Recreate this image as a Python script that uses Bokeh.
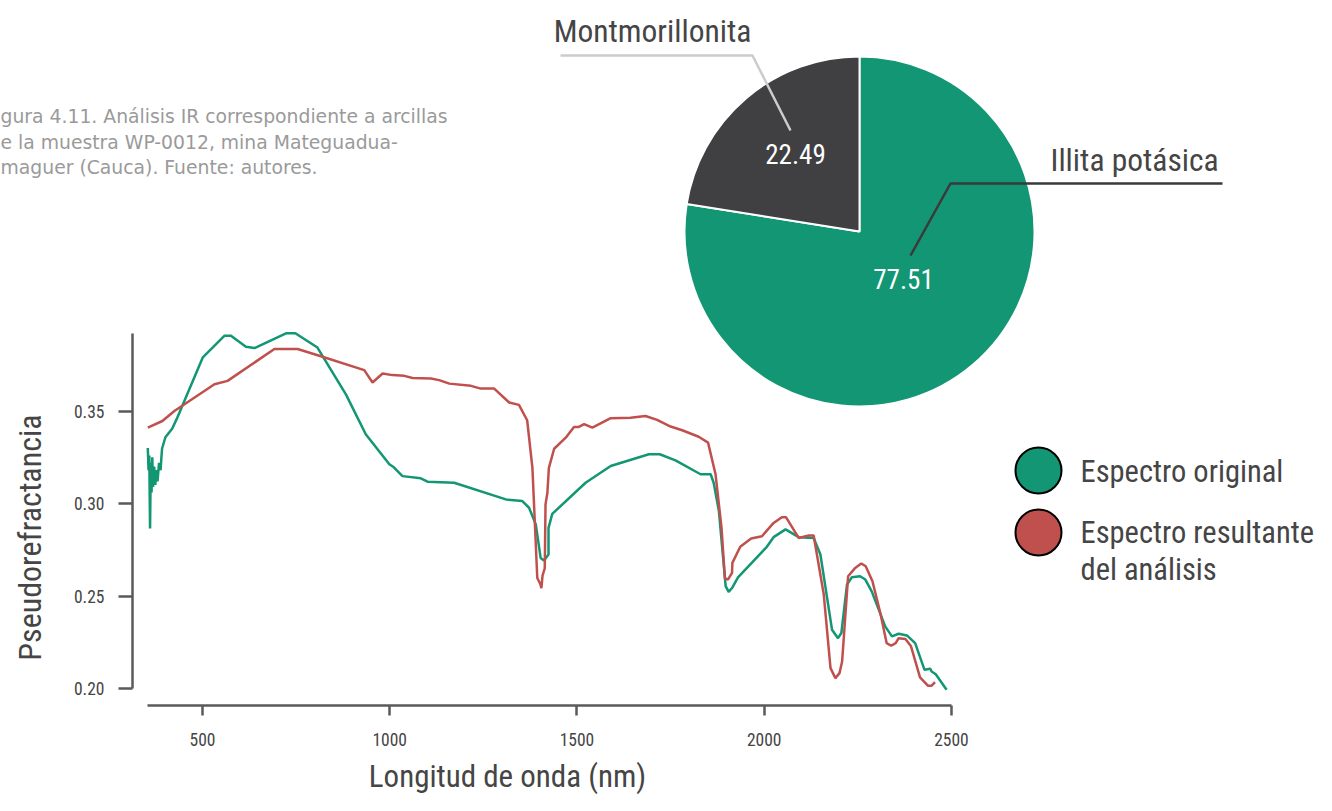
import math
from bokeh.plotting import figure
from bokeh.models import Range1d, FixedTicker, NumeralTickFormatter, GridBox
from bokeh.embed import file_html
from bokeh.resources import INLINE
from bokeh.core.properties import value

# ---------------- data ----------------
series_names = ["Espectro original", "Espectro resultante\ndel análisis"]

original_nm = [354, 356, 358, 360, 362, 364, 366, 368, 371, 374, 377, 380, 384, 388, 392, 401, 419, 431,
               501, 559, 576, 616, 639, 723, 748, 807, 883, 936, 999, 1009, 1034, 1083, 1101, 1172,
               1310, 1354, 1372, 1390, 1403, 1412, 1424, 1424, 1434, 1523, 1590, 1692, 1721, 1763,
               1830, 1857, 1865, 1879, 1897, 1905, 1914, 1930, 2007, 2025, 2057, 2092, 2132, 2150,
               2181, 2197, 2206, 2221, 2234, 2256, 2270, 2287, 2323, 2341, 2359, 2381, 2403, 2428,
               2443, 2447, 2458, 2487]
original_val = [0.330, 0.318, 0.326, 0.2865, 0.322, 0.306, 0.325, 0.309, 0.320, 0.310, 0.318, 0.312,
                0.322, 0.318, 0.3296, 0.3358, 0.3404, 0.3456, 0.379, 0.3907, 0.3907, 0.3847, 0.384,
                0.392, 0.392, 0.3843, 0.359, 0.3374, 0.3212, 0.3199, 0.3148, 0.3136, 0.3118, 0.3112,
                0.3022, 0.3013, 0.2977, 0.2887, 0.2706, 0.2692, 0.2724, 0.2868, 0.2944, 0.3112,
                0.3203, 0.3266, 0.3266, 0.3233, 0.3158, 0.3158, 0.3112, 0.2959, 0.2553, 0.2522,
                0.2543, 0.2601, 0.2766, 0.2818, 0.286, 0.2818, 0.2814, 0.2724, 0.2318, 0.2272, 0.23,
                0.2562, 0.2601, 0.2607, 0.2589, 0.2525, 0.2336, 0.2282, 0.2296, 0.2287, 0.2245,
                0.2101, 0.2107, 0.2092, 0.2077, 0.1993]

result_nm = [354, 393, 425, 532, 567, 692, 754, 812, 932, 954, 981, 1007, 1039, 1061, 1110, 1132,
             1159, 1217, 1243, 1279, 1319, 1345, 1367, 1381, 1394, 1402, 1405, 1408, 1414, 1416,
             1421, 1425, 1439, 1470, 1492, 1505, 1519, 1541, 1590, 1643, 1683, 1714, 1750, 1781,
             1825, 1850, 1870, 1886, 1895, 1903, 1914, 1915, 1936, 1965, 1994, 2025, 2047, 2058,
             2092, 2119, 2132, 2159, 2177, 2190, 2201, 2208, 2224, 2243, 2259, 2271, 2289, 2310,
             2327, 2339, 2351, 2359, 2377, 2392, 2416, 2437, 2447, 2456]
result_val = [0.341, 0.3446, 0.35, 0.3645, 0.3663, 0.3835, 0.3835, 0.3799, 0.3721, 0.3654, 0.3703,
              0.3694, 0.369, 0.3678, 0.3676, 0.3667, 0.3648, 0.3636, 0.3621, 0.3621, 0.3546,
              0.3533, 0.345, 0.3193, 0.2597, 0.2565, 0.2543, 0.2610, 0.265, 0.2995, 0.3058,
              0.3193, 0.3296, 0.3356, 0.3414, 0.3414, 0.3429, 0.341, 0.3461, 0.3464, 0.3473,
              0.3452, 0.3416, 0.3396, 0.3361, 0.3329, 0.3158, 0.2868, 0.2597, 0.2589, 0.2625,
              0.2679, 0.2766, 0.2811, 0.2823, 0.2895, 0.2926, 0.2926, 0.2814, 0.2827, 0.2827,
              0.2508, 0.211, 0.2056, 0.2083, 0.2146, 0.2607, 0.2652, 0.2676, 0.2661, 0.258,
              0.2408, 0.2245, 0.2231, 0.2245, 0.2272, 0.2268, 0.2228, 0.206, 0.2015, 0.2015, 0.2034]

x_ticks = [500, 1000, 1500, 2000, 2500]
y_ticks = [0.20, 0.25, 0.30, 0.35]

pie_labels = ["Illita potásica", "Montmorillonita"]
pie_values = [77.51, 22.49]

caption_lines = ["gura 4.11. Análisis IR correspondiente a arcillas",
                 "e la muestra WP-0012, mina Mateguadua-",
                 "maguer (Cauca). Fuente: autores."]

x_title = "Longitud de onda (nm)"
y_title = "Pseudorefractancia"

# ---------------- style / layout ----------------
GREEN = "#129673"
RED = "#c0504d"
DARK = "#404042"
TEXT = "#454545"
AXIS = "#5a5a5a"
FONT = "Roboto Condensed"

W, H = 1316, 795
FX0, FX1 = 132, 1316       # chart frame left/right (px)
FY0, FY1 = 0, 705          # chart frame top/bottom (px)
PX_PER_NM = 0.3745
PX_PER_UNIT = 1850.0
x_start = 354 - (147.3 - FX0) / PX_PER_NM
y_start = 0.20 - (FY1 - 688) / PX_PER_UNIT

# ---------- line chart with axes ----------
p = figure(width=W, height=H, output_backend="svg", toolbar_location=None,
           x_range=Range1d(x_start, x_start + (FX1 - FX0) / PX_PER_NM),
           y_range=Range1d(y_start, y_start + (FY1 - FY0) / PX_PER_UNIT),
           min_border_left=FX0, min_border_right=0, min_border_top=0,
           min_border_bottom=H - FY1)
p.frame_align = False
p.outline_line_color = None
p.grid.visible = False
p.background_fill_color = "white"
p.border_fill_color = "white"

for ax in (p.xaxis[0], p.yaxis[0]):
    ax.axis_line_color = AXIS
    ax.axis_line_width = 2.5
    ax.major_tick_line_color = AXIS
    ax.major_tick_line_width = 2.5
    ax.major_tick_in = 0
    ax.minor_tick_line_color = None
    ax.major_label_text_font = FONT
    ax.major_label_text_font_size = "17.5px"
    ax.major_label_text_color = TEXT

p.xaxis.ticker = FixedTicker(ticks=x_ticks)
p.xaxis.bounds = (354, 2500)
p.xaxis.major_tick_out = 10
p.xaxis.major_label_standoff = 17

p.yaxis.ticker = FixedTicker(ticks=y_ticks)
p.yaxis.bounds = (0.20, 0.392)
p.yaxis.major_tick_out = 14
p.yaxis.major_label_standoff = 14
p.yaxis.formatter = NumeralTickFormatter(format="0.00")

p.line(original_nm, original_val, line_color=GREEN, line_width=2.5)
p.line(result_nm, result_val, line_color=RED, line_width=2.5)

# ---------- overlay: pie, legend, texts (pixel coordinates) ----------
o = figure(width=W, height=H, output_backend="svg", toolbar_location=None,
           x_axis_type=None, y_axis_type=None,
           x_range=Range1d(0, W), y_range=Range1d(H, 0),
           min_border=0, min_border_left=0, min_border_right=0,
           min_border_top=0, min_border_bottom=0)
o.frame_align = False
o.outline_line_color = None
o.grid.visible = False
o.background_fill_color = None
o.border_fill_color = None

cx, cy, r = 859, 231, 175
total = sum(pie_values)
frac_m = pie_values[1] / total
a0 = math.pi / 2
starts = [a0 + frac_m * 2 * math.pi, a0]
ends = [a0 + 2 * math.pi, a0 + frac_m * 2 * math.pi]
o.wedge(x=[cx, cx], y=[cy, cy], radius=r, radius_units="screen",
        start_angle=starts, end_angle=ends, fill_color=[GREEN, DARK],
        line_color="white", line_width=2)

# leader lines
o.line([560, 752, 790], [55, 55, 130], line_color="#cccccc", line_width=2.5)
o.line([1222, 950, 910], [183, 183, 255], line_color="#3a3a3c", line_width=2.5)

# legend markers
o.scatter(x=[1038, 1038], y=[470, 532], size=46, fill_color=[GREEN, RED],
          line_color="black", line_width=2)


def txt(xs, ys, texts, size, color=TEXT, align="left", font=FONT, angle=0.0):
    o.text(x=xs, y=ys, text=texts, text_font=value(font), text_font_size=f"{size}px",
           text_color=color, text_align=align, text_baseline="middle", angle=angle)


# pie texts
txt([795, 903], [153, 278], [f"{pie_values[1]:.2f}", f"{pie_values[0]:.2f}"], 27,
    color="white", align="center")
txt([652], [31], [pie_labels[1]], 31.5, align="center")
txt([1050], [160], [pie_labels[0]], 31.5)

# legend texts
name2 = series_names[1].split("\n")
txt([1080, 1080, 1080], [471, 532, 569], [series_names[0], name2[0], name2[1]], 30.5)

# axis titles
txt([507], [776], [x_title], 31, align="center")
txt([29], [537], [y_title], 32, align="center", angle=math.pi / 2)

# caption
txt([0, 0, 0], [116, 141.5, 167], caption_lines, 18.8, color="#9a9a9a", font="DejaVu Sans")

layout = GridBox(children=[(p, 0, 0), (o, 0, 0)])
open("out.html", "w").write(file_html(layout, INLINE))
